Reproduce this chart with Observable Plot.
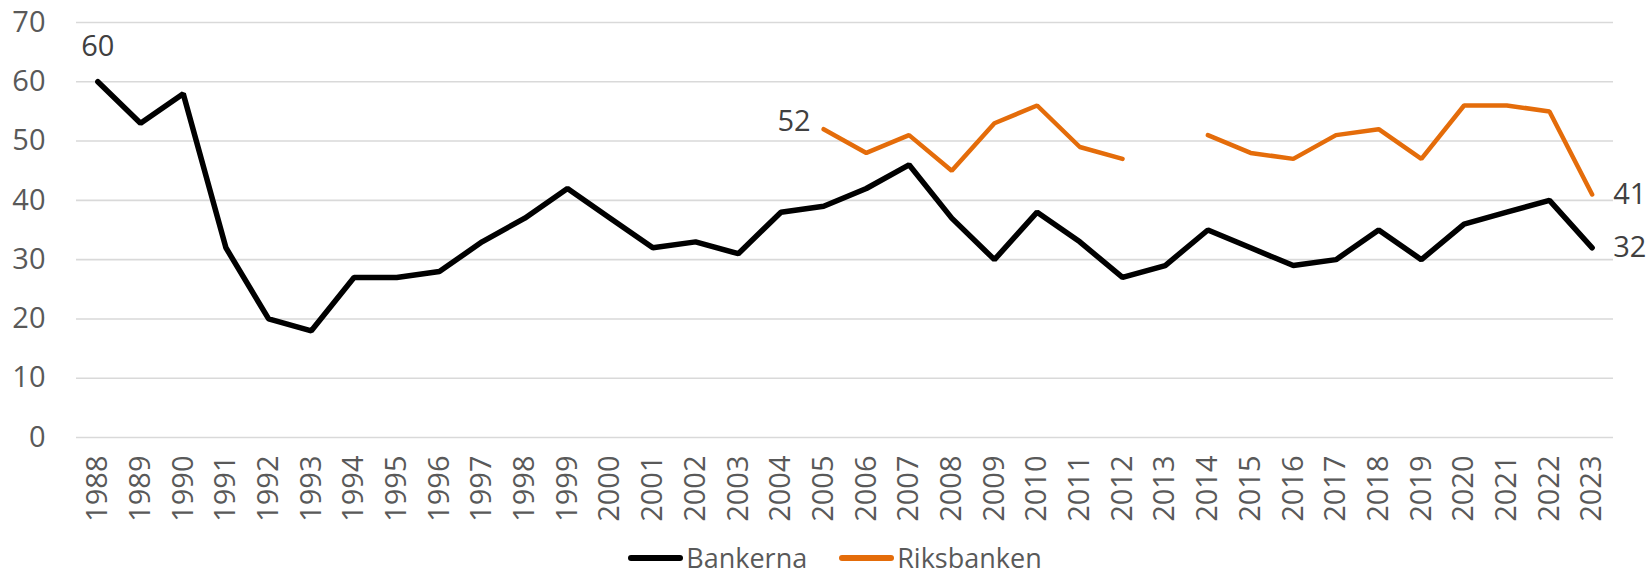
<!DOCTYPE html>
<html>
<head>
<meta charset="utf-8">
<script src="https://cdn.jsdelivr.net/npm/d3@7"></script>
<script src="https://cdn.jsdelivr.net/npm/@observablehq/plot@0.6"></script>
<style>
  html, body { margin: 0; padding: 0; background: #fff; }
  body { width: 1646px; height: 578px; overflow: hidden; font-family: "Open Sans", sans-serif; position: relative; }
  #chart svg { display: block; }
  #legend { position: absolute; left: 0; top: 540px; width: 1646px; height: 36px; box-sizing: border-box; padding-left: 24px; display: flex; justify-content: center; align-items: center; font-size: 27px; color: #595959; }
  .item { display: flex; align-items: center; margin: 0 16px; }
  .item span { line-height: 36px; }
  .sw { width: 55px; height: 6px; border-radius: 3px; margin-right: 3px; }
</style>
</head>
<body>
<div id="chart"></div>
<div id="legend"></div>
<script>
const years = [1988,1989,1990,1991,1992,1993,1994,1995,1996,1997,1998,1999,2000,2001,2002,2003,2004,2005,2006,2007,2008,2009,2010,2011,2012,2013,2014,2015,2016,2017,2018,2019,2020,2021,2022,2023];
const bankerna = [60,53,58,32,20,18,27,27,28,33,37,42,37,32,33,31,38,39,42,46,37,30,38,33,27,29,35,32,29,30,35,30,36,38,40,32];
const riksbanken = [null,null,null,null,null,null,null,null,null,null,null,null,null,null,null,null,null,52,48,51,45,53,56,49,47,null,51,48,47,51,52,47,56,56,55,41];
const seriesNames = ["Bankerna", "Riksbanken"];
const seriesColors = ["#000000", "#E46C0A"];
const yTicks = [0,10,20,30,40,50,60,70];

const bData = years.map((y, i) => ({year: String(y), value: bankerna[i]}));
const rData = years.map((y, i) => ({year: String(y), value: riksbanken[i]}));

// labels: first and last point of each series (as in reference)
const bFirst = bData[0], bLast = bData[bData.length - 1];
const rValid = rData.filter(d => d.value != null);
const rFirst = rValid[0], rLast = rValid[rValid.length - 1];

const chart = Plot.plot({
  width: 1646,
  height: 530,
  marginLeft: 76,
  marginRight: 33,
  marginTop: 22,
  marginBottom: 93,
  style: { fontFamily: "Open Sans, sans-serif", fontSize: "29px", color: "#595959", background: "#fff" },
  x: { type: "point", domain: years.map(String), padding: 0.5, align: 0.5, round: false, label: null },
  y: { domain: [0, 70], label: null },
  marks: [
    Plot.gridY(yTicks, { stroke: "#d9d9d9", strokeOpacity: 1, strokeWidth: 1.6 }),
    Plot.axisY(yTicks, { tickSize: 0, tickPadding: 31, fontSize: 29, fill: "#595959", label: null }),
    Plot.axisX({ tickRotate: -90, tickSize: 0, tickPadding: 18, fontSize: 29, fill: "#595959", label: null }),
    Plot.line(bData, { x: "year", y: "value", stroke: seriesColors[0], strokeWidth: 5.5, strokeLinejoin: "miter", strokeLinecap: "round" }),
    Plot.line(rData, { x: "year", y: "value", stroke: seriesColors[1], strokeWidth: 4.5, strokeLinejoin: "miter", strokeLinecap: "round" }),
    Plot.text([bFirst], { x: "year", y: "value", text: d => String(d.value), dy: -35, fill: "#404040", fontSize: 29 }),
    Plot.text([rFirst], { x: "year", y: "value", text: d => String(d.value), dx: -13, dy: -7, textAnchor: "end", fill: "#404040", fontSize: 29 }),
    Plot.text([rLast, bLast], { x: "year", y: "value", text: d => String(d.value), dx: 21, textAnchor: "start", fill: "#404040", fontSize: 29 })
  ]
});
document.getElementById("chart").appendChild(chart);

const legend = document.getElementById("legend");
seriesNames.forEach((name, i) => {
  const item = document.createElement("div");
  item.className = "item";
  const sw = document.createElement("div");
  sw.className = "sw";
  sw.style.background = seriesColors[i];
  const t = document.createElement("span");
  t.textContent = name;
  item.appendChild(sw);
  item.appendChild(t);
  legend.appendChild(item);
});
</script>
</body>
</html>
